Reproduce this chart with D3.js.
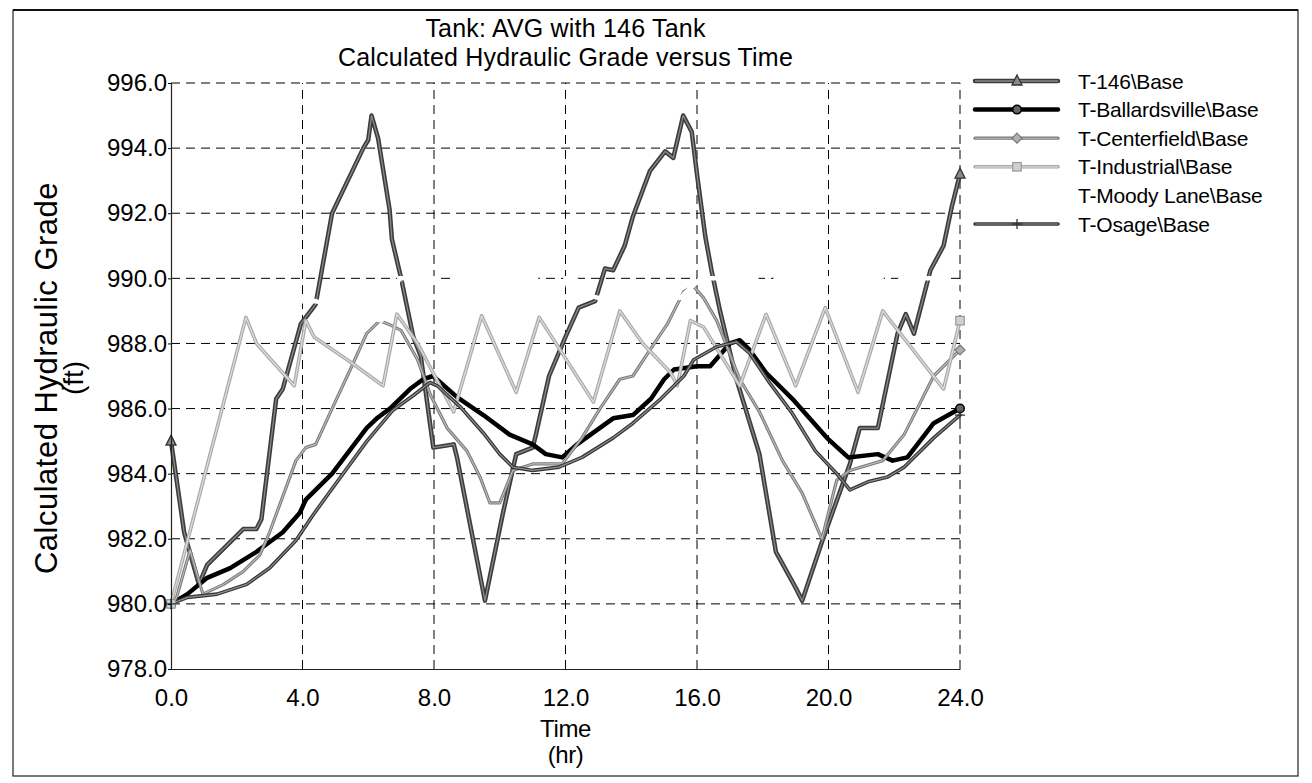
<!DOCTYPE html>
<html><head><meta charset="utf-8">
<script src="https://cdn.jsdelivr.net/npm/d3@7/dist/d3.min.js"></script>
<style>
body{margin:0;background:#fff;}
svg{display:block;}
text{font-family:"Liberation Sans", Arial, sans-serif; fill:#000;}
</style></head><body>
<svg id="chart" width="1312" height="783"></svg>
<script>
// ---------- data ----------
const titleLines = ["Tank: AVG with 146 Tank", "Calculated Hydraulic Grade versus Time"];
const seriesNames = ["T-146\\Base", "T-Ballardsville\\Base", "T-Centerfield\\Base", "T-Industrial\\Base", "T-Moody Lane\\Base", "T-Osage\\Base"];
const xTickValues = [0, 4, 8, 12, 16, 20, 24];
const yTickValues = [978, 980, 982, 984, 986, 988, 990, 992, 994, 996];

const t146Time = [0,0.4,0.85,1.1,1.8,2.2,2.6,2.75,3.2,3.4,3.95,4.4,4.9,5.85,6.0,6.1,6.3,6.65,6.72,7.0,7.37,7.6,7.98,8.6,8.7,9.55,10.1,10.5,11.0,11.1,11.5,12.0,12.4,12.9,13.2,13.45,13.8,14.05,14.57,15.03,15.28,15.58,15.84,16.0,16.25,16.45,16.7,17.2,17.9,18.4,19.0,19.2,19.8,20.65,20.95,21.5,22.1,22.35,22.6,23.1,23.5,23.75,24];
const t146Head = [985.0,982.2,980.6,981.2,981.9,982.3,982.3,982.6,986.3,986.6,988.6,989.2,992.0,994.0,994.25,995.0,994.3,992.1,991.2,990.0,988.2,987.6,984.8,984.9,984.5,980.1,982.8,984.6,984.8,985.2,987.0,988.2,989.1,989.3,990.3,990.25,991.0,991.9,993.3,993.9,993.7,995.0,994.5,993.2,991.3,990.2,989.0,986.9,984.6,981.6,980.5,980.1,981.9,984.3,985.4,985.4,988.3,988.9,988.3,990.25,991.0,992.2,993.2];

const ballTime = [0,0.5,1.1,1.8,2.6,3.4,3.92,4.1,4.6,4.9,5.95,6.26,6.66,7.27,7.67,7.97,8.7,9.5,10.3,11.0,11.4,11.9,12.35,13.45,14.05,14.6,15.0,15.3,16.0,16.4,17.0,17.3,17.6,18.1,18.9,19.95,20.6,21.5,21.95,22.4,23.2,24];
const ballHead = [980.0,980.3,980.8,981.1,981.6,982.2,982.8,983.2,983.7,984.0,985.4,985.7,986.0,986.6,986.9,987.0,986.35,985.8,985.2,984.9,984.6,984.5,984.9,985.7,985.8,986.3,986.9,987.2,987.3,987.3,988.0,988.1,987.8,987.1,986.3,985.1,984.5,984.6,984.4,984.5,985.55,986.0];

const centTime = [0,0.17,0.58,0.97,1.6,2.2,2.7,3.0,3.8,4.1,4.4,4.9,5.5,5.95,6.35,6.6,7.0,7.5,7.9,8.4,9.0,9.4,9.7,10.0,10.4,11.0,11.9,12.5,13.05,13.65,14.05,14.57,15.1,15.4,15.6,15.9,16.2,16.6,17.3,17.9,18.6,19.2,19.8,20.25,20.65,21.65,22.3,23.2,24];
const centHead = [980.0,980.2,981.65,980.3,980.6,981.0,981.5,982.2,984.4,984.8,984.9,986.0,987.3,988.3,988.7,988.6,988.4,987.5,986.4,985.4,984.7,983.9,983.1,983.1,984.1,984.3,984.3,985.1,986.0,986.9,987.0,987.8,988.6,989.2,989.6,989.75,989.4,988.7,986.9,985.9,984.4,983.4,982.0,983.8,984.1,984.4,985.2,987.0,987.8];

const indTime = [0,2.28,2.6,3.75,4.1,4.35,5.5,6.45,6.87,7.5,8.6,9.45,10.5,11.2,12.85,13.65,14.35,15.2,15.4,15.8,16.2,17.3,18.1,19.0,19.9,20.9,21.65,23.5,24];
const indHead = [980.0,988.8,988.0,986.7,988.7,988.2,987.4,986.7,988.9,988.0,985.9,988.85,986.5,988.8,986.2,989.0,988.0,987.1,986.7,988.7,988.5,986.7,988.9,986.7,989.1,986.5,989.0,986.6,988.7];

const moodyTime = [0,4.4,6.4,6.95,8.0,8.3,8.6,11.1,11.3,11.8,12.0,12.3,12.6,13.0,15.5,16.1,17.8,18.05,18.4,21.6,21.9,22.2,23.5,24];
const moodyHead = [989.2,989.3,988.7,990.0,990.0,989.6,990.0,990.0,989.0,989.3,990.0,990.0,989.5,989.4,989.4,990.0,990.0,989.0,990.0,990.0,989.5,990.0,990.0,989.5];

const osageTime = [0,0.5,1.4,2.3,3.0,3.8,4.3,4.8,5.96,6.75,7.37,7.88,8.1,8.8,9.5,10.0,10.4,11.0,11.8,12.5,13.45,14.05,14.9,15.6,15.9,16.6,17.2,17.6,18.2,18.9,19.6,20.25,20.65,21.2,21.8,22.3,23.2,24];
const osageHead = [980.0,980.2,980.3,980.6,981.1,981.95,982.7,983.4,985.0,985.95,986.4,986.8,986.7,986.05,985.25,984.6,984.2,984.1,984.2,984.5,985.1,985.55,986.3,987.0,987.5,987.9,988.05,987.7,986.8,985.85,984.7,984.0,983.5,983.75,983.9,984.2,985.1,985.8];

// ---------- styles ----------
const styles = [
  {outer:"#3c3c3c", ow:4.5, inner:"#8a8a8a", iw:1.3, marker:"triangle", mfill:"#8a8a8a", mstroke:"#333"},
  {outer:"#000000", ow:4.5, inner:null, iw:0, marker:"circle", mfill:"#666", mstroke:"#000"},
  {outer:"#7a7a7a", ow:3.2, inner:"#bdbdbd", iw:1.1, marker:"diamond", mfill:"#b0b0b0", mstroke:"#777"},
  {outer:"#a8a8a8", ow:3.6, inner:"#dcdcdc", iw:1.3, marker:"square", mfill:"#d0d0d0", mstroke:"#999"},
  {outer:"#ffffff", ow:4.5, inner:null, iw:0, marker:null},
  {outer:"#333333", ow:3.6, inner:"#909090", iw:1.2, marker:"plus", mfill:"none", mstroke:"#333"}
];

const seriesData = [
  [t146Time, t146Head], [ballTime, ballHead], [centTime, centHead],
  [indTime, indHead], [moodyTime, moodyHead], [osageTime, osageHead]
].map(([tt, hh], i) => ({name: seriesNames[i], style: styles[i],
  values: tt.map((t, k) => ({t: t, v: hh[k]}))}));

// ---------- layout ----------
const svg = d3.select("#chart");
const x = d3.scaleLinear().domain([0, 24]).range([171, 960]);
const y = d3.scaleLinear().domain([978, 996]).range([669, 83]);

// frame
svg.append("rect").attr("x", 13).attr("y", 10).attr("width", 1285).attr("height", 766)
  .attr("fill", "none").attr("stroke", "#222").attr("stroke-width", 1.2);
svg.append("line").attr("x1", 13).attr("x2", 1298).attr("y1", 10).attr("y2", 10)
  .attr("stroke", "#111").attr("stroke-width", 2.2);

// grid
const grid = svg.append("g").attr("stroke", "#000").attr("stroke-width", 1).attr("stroke-dasharray", "9,6").attr("fill", "none");
yTickValues.filter(v => v > 978).forEach(v => {
  grid.append("line").attr("x1", x(0)).attr("x2", x(24)).attr("y1", y(v)).attr("y2", y(v));
});
xTickValues.filter(t => t > 0).forEach(t => {
  grid.append("line").attr("x1", x(t)).attr("x2", x(t)).attr("y1", y(978)).attr("y2", y(996));
});

// lines
const line = d3.line().x(d => x(d.t)).y(d => y(d.v));
const lines = svg.append("g").attr("fill", "none").attr("stroke-linejoin", "round").attr("stroke-linecap", "round");
seriesData.forEach(s => {
  lines.append("path").attr("d", line(s.values)).attr("stroke", s.style.outer).attr("stroke-width", s.style.ow);
  if (s.style.inner) lines.append("path").attr("d", line(s.values)).attr("stroke", s.style.inner).attr("stroke-width", s.style.iw);
});

function drawMarker(g, type, cx, cy, st, size) {
  const r = size / 2;
  if (type === "triangle") {
    g.append("path").attr("d", `M${cx},${cy - r - 1}L${cx + r},${cy + r - 1}L${cx - r},${cy + r - 1}Z`)
      .attr("fill", st.mfill).attr("stroke", st.mstroke).attr("stroke-width", 1.3);
  } else if (type === "circle") {
    g.append("circle").attr("cx", cx).attr("cy", cy).attr("r", r * 0.85)
      .attr("fill", st.mfill).attr("stroke", st.mstroke).attr("stroke-width", 1.5);
  } else if (type === "diamond") {
    g.append("path").attr("d", `M${cx},${cy - r}L${cx + r},${cy}L${cx},${cy + r}L${cx - r},${cy}Z`)
      .attr("fill", st.mfill).attr("stroke", st.mstroke).attr("stroke-width", 1.2);
  } else if (type === "square") {
    g.append("rect").attr("x", cx - r * 0.85).attr("y", cy - r * 0.85).attr("width", r * 1.7).attr("height", r * 1.7)
      .attr("fill", st.mfill).attr("stroke", st.mstroke).attr("stroke-width", 1.2);
  } else if (type === "plus") {
    g.append("path").attr("d", `M${cx - r},${cy}H${cx + r}M${cx},${cy - r}V${cy + r}`)
      .attr("stroke", st.mstroke).attr("stroke-width", 1.3).attr("fill", "none");
  }
}

// markers at first and last points
const mk = svg.append("g");
seriesData.forEach(s => {
  if (!s.style.marker) return;
  [s.values[0], s.values[s.values.length - 1]].forEach(d => drawMarker(mk, s.style.marker, x(d.t), y(d.v), s.style, 10));
});

// axes
const yAxis = d3.axisLeft(y).tickValues(yTickValues).tickFormat(d3.format(".1f")).tickSize(3).tickPadding(1);
const gy = svg.append("g").attr("transform", `translate(${x(0)},0)`).call(yAxis);
gy.selectAll("text").attr("font-size", 24).attr("font-family", "Liberation Sans, Arial, sans-serif").attr("letter-spacing", 0);
gy.select(".domain").attr("stroke", "#222").attr("stroke-width", 1.2);

const xAxis = d3.axisBottom(x).tickValues(xTickValues).tickFormat(d3.format(".1f")).tickSize(0).tickPadding(20);
const gx = svg.append("g").attr("transform", `translate(0,${y(978)})`).call(xAxis);
gx.selectAll("text").attr("font-size", 24).attr("font-family", "Liberation Sans, Arial, sans-serif").attr("letter-spacing", 0);
gx.select(".domain").attr("stroke", "#222").attr("stroke-width", 1.2);

// titles
const cx = (x(0) + x(24)) / 2;
svg.append("text").attr("x", cx).attr("y", 37).attr("text-anchor", "middle").attr("font-size", 25).attr("letter-spacing", 0.2).text(titleLines[0]);
svg.append("text").attr("x", cx).attr("y", 66).attr("text-anchor", "middle").attr("font-size", 25).attr("letter-spacing", 0.2).text(titleLines[1]);

// axis titles
svg.append("text").attr("x", cx).attr("y", 737).attr("text-anchor", "middle").attr("font-size", 24).attr("letter-spacing", -0.4).text("Time");
svg.append("text").attr("x", cx).attr("y", 763).attr("text-anchor", "middle").attr("font-size", 24).attr("letter-spacing", -0.4).text("(hr)");
const ymid = (y(978) + y(996)) / 2 + 2;
svg.append("text").attr("transform", `translate(57,${ymid}) rotate(-90)`).attr("text-anchor", "middle").attr("font-size", 31).attr("letter-spacing", 0.5).text("Calculated Hydraulic Grade");
svg.append("text").attr("transform", `translate(83,${ymid}) rotate(-90)`).attr("text-anchor", "middle").attr("font-size", 28).text("(ft)");

// legend
const lg = svg.append("g");
seriesData.forEach((s, i) => {
  const ly = 81 + i * 28.6;
  lg.append("line").attr("x1", 975).attr("x2", 1058).attr("y1", ly).attr("y2", ly)
    .attr("stroke", s.style.outer).attr("stroke-width", s.style.ow).attr("stroke-linecap", "round");
  if (s.style.inner) lg.append("line").attr("x1", 975).attr("x2", 1058).attr("y1", ly).attr("y2", ly)
    .attr("stroke", s.style.inner).attr("stroke-width", s.style.iw);
  if (s.style.marker) drawMarker(lg, s.style.marker, 1017, ly, s.style, 10);
  lg.append("text").attr("x", 1078).attr("y", ly + 7.5).attr("font-size", 21).attr("letter-spacing", -0.2).text(s.name);
});
</script>
</body></html>
